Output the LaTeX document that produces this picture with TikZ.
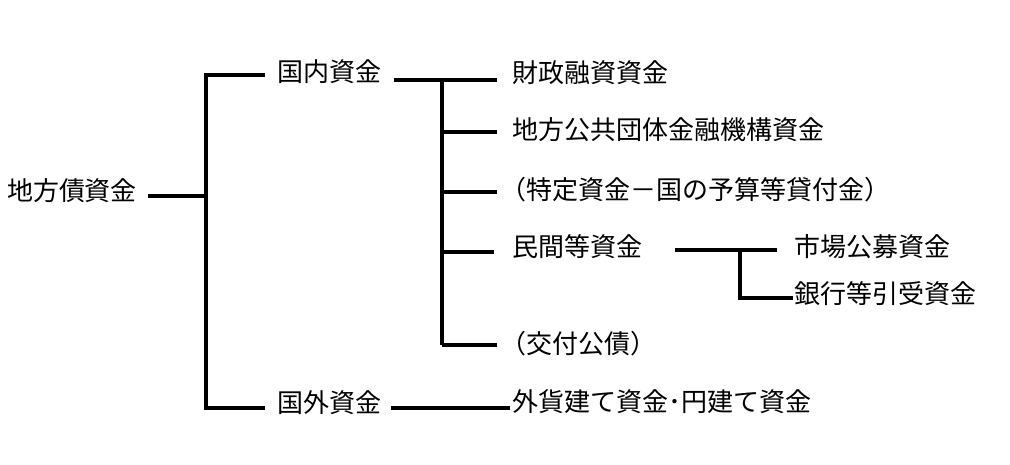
\documentclass[tikz,border=0pt]{standalone}
\usepackage{fontspec}
\setmainfont{Noto Sans CJK JP}
\usetikzlibrary{calc}
\begin{document}
\begin{tikzpicture}[x=1pt,y=-1pt,
  lbl/.style={anchor=west,inner sep=0pt,outer sep=0pt,font=\fontsize{26}{26}\selectfont,text height=1.08em,text depth=0em},
  ln/.style={line width=3.6pt}]
\useasboundingbox (0,0) rectangle (1010,465);
\node[lbl] (root) at (7,195) {地方債資金};
\node[lbl] (dom) at (277,76) {国内資金};
\node[lbl] (for) at (277,407) {国外資金};
\node[lbl] (a1) at (512,77) {財政融資資金};
\node[lbl] (a2) at (512,134) {地方公共団体金融機構資金};
\node[lbl] (a3) at (500,194) {（特定資金－国の予算等貸付金）};
\node[lbl] (a4) at (512,251) {民間等資金};
\node[lbl] (a5) at (500,348) {（交付公債）};
\node[lbl] (b1) at (794,251) {市場公募資金};
\node[lbl] (b2) at (794,298) {銀行等引受資金};
\node[lbl] (f1) at (512,406) {外貨建て資金･円建て資金};
\coordinate (J) at (206,0);
\coordinate (K) at (442,0);
\coordinate (L) at (740,0);
% root level
\draw[ln] ($(root.east)+(11,1)$) -- ($(root.east -| J)+(0,1)$);
\draw[ln] ($(dom.west)+(-12,-1)$) -| ($(for.west -| J)+(0,1)$) -- ($(for.west)+(-12,1)$);
% domestic
\draw[ln] ($(dom.east)+(13,4)$) -- ($(a1.west)+(-15,3)$);
\draw[ln] ($(dom.east -| K)+(0,4)$) -- ($(a5.west -| K)+(0,-3)$);
\draw[ln] ($(a2.west -| K)+(0,-2)$) -- ($(a2.west)+(-15,-2)$);
\draw[ln] ($(a3.west -| K)+(0,-2)$) -- ($(a3.west)+(-3,-2)$);
\draw[ln] ($(a4.west -| K)+(0,1)$) -- ($(a4.west)+(-18,1)$);
\draw[ln] ($(a5.west -| K)+(0,-3)$) -- ($(a5.west)+(-3,-3)$);
% private
\draw[ln] ($(a4.east)+(33,-1)$) -- ($(b1.west)+(-17,-1)$);
\draw[ln] ($(a4.east -| L)+(0,-1)$) |- ($(b2.west)+(-1,0)$);
% foreign
\draw[ln] ($(for.east)+(10,1)$) -- ($(f1.west)+(-2,2)$);
\end{tikzpicture}
\end{document}
